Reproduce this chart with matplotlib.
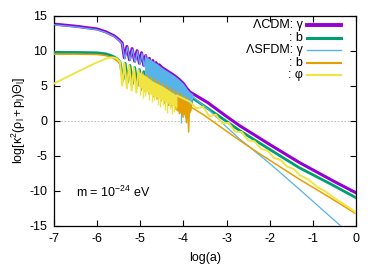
import matplotlib
matplotlib.use("Agg")
import matplotlib.pyplot as plt

plt.rcParams['font.family'] = ['Liberation Sans', 'DejaVu Sans']
plt.rcParams['mathtext.fontset'] = 'custom'
plt.rcParams['mathtext.rm'] = 'Liberation Sans'
plt.rcParams['mathtext.it'] = 'Liberation Sans'
plt.rcParams['mathtext.sf'] = 'Liberation Sans'
plt.rcParams['axes.unicode_minus'] = False

# ---------------- data ----------------
# Lambda-CDM photons (gamma): smooth part, visible oscillation dips, then envelope
lcdm_g_x = [-7.0, -6.5, -6.0, -5.8, -5.6, -5.5, -5.42,
            -5.37, -5.31, -5.25, -5.19, -5.13, -5.075, -5.02, -4.97, -4.92, -4.875,
            -4.83, -4.79, -4.75, -4.71, -4.67, -4.635, -4.6, -4.565,
            -4.5, -4.4, -4.3, -4.2, -4.1, -4.0, -3.92, -3.85, -3.74, -3.44, -3.0,
            -2.7, -2.0, -1.32, -0.5, 0.0]
lcdm_g_y = [13.8, 13.5, 13.1, 12.7, 12.1, 11.6, 11.1,
            9.0, 10.6, 8.7, 10.3, 8.5, 10.0, 8.2, 9.7, 7.9, 9.3,
            7.5, 8.9, 7.2, 8.6, 6.9, 8.3, 6.6, 8.0,
            7.6, 7.2, 6.8, 6.4, 5.9, 5.3, 4.6, 4.1, 3.7, 2.6, 0.6,
            -0.7, -3.4, -5.95, -8.7, -10.3]

# Lambda-CDM baryons
lcdm_b_x = [-7.0, -6.5, -6.0, -5.8, -5.65, -5.55, -5.47,
            -5.4, -5.35, -5.29, -5.24, -5.18, -5.13, -5.07, -5.02, -4.97, -4.92,
            -4.87, -4.83, -4.78, -4.74, -4.69, -4.65, -4.6, -4.56, -4.51, -4.47,
            -4.42, -4.38, -4.33, -4.3, -4.25, -4.21, -4.16, -4.12, -4.08, -4.04,
            -4.0, -3.96, -3.92, -3.88, -3.84, -3.8,
            -3.78, -3.4, -3.0, -2.7, -2.0, -1.32, -0.6, 0.0]
lcdm_b_y = [9.75, 9.75, 9.7, 9.55, 9.25, 8.9, 8.4,
            5.9, 8.2, 5.6, 7.9, 5.3, 7.6, 5.0, 7.3, 4.7, 7.0,
            4.4, 6.7, 4.1, 6.4, 3.8, 6.1, 3.5, 5.8, 3.2, 5.5,
            2.9, 5.2, 2.6, 4.9, 2.3, 4.6, 2.0, 4.3, 1.7, 4.0,
            1.5, 3.7, 1.4, 3.4, 1.8, 3.2,
            3.2, 1.6, -0.1, -1.4, -4.1, -6.7, -9.0, -11.0]

# Lambda-SFDM photons: line before and after the dense oscillations
sfdm_g_x = [-7.0, -6.5, -6.0, -5.8, -5.6, -5.5, -5.42,
            -5.36, -5.3, -5.24, -5.18, -5.12, -5.065, -5.01, -4.96, -4.91, -4.87]
sfdm_g_y = [13.7, 13.4, 13.0, 12.6, 12.0, 11.5, 11.0,
            8.8, 10.5, 8.6, 10.2, 8.3, 9.9, 8.0, 9.6, 7.7, 9.3]
sfdm_g_late_x = [-3.78, -3.4, -3.0, -2.7, -2.0, -1.32, -0.8, -0.36, 0.0]
sfdm_g_late_y = [3.4, 1.5, -0.9, -2.6, -6.1, -9.76, -12.6, -15.0, -17.2]
# dense-oscillation band of Lambda-SFDM photons
sfdm_g_band_x = [-4.9, -4.8, -4.7, -4.6, -4.5, -4.4, -4.3, -4.2, -4.1, -4.0, -3.92, -3.85, -3.78]
sfdm_g_band_top = [9.2, 8.9, 8.5, 8.1, 7.6, 7.2, 6.8, 6.4, 5.9, 5.3, 4.6, 4.1, 3.8]
sfdm_g_band_bot = [6.2, 5.8, 5.3, 5.0, 4.7, 4.3, 3.9, 3.5, 3.1, 2.5, 2.2, 2.0, 3.3]
sfdm_g_spike_x = [-4.15, -4.05, -3.97, -3.9]
sfdm_g_spike_lo = [1.5, -0.4, 0.5, 1.0]
sfdm_g_spike_hi = [3.6, 3.0, 2.6, 2.3]

# Lambda-SFDM baryons
sfdm_b_x = [-7.0, -6.5, -6.0, -5.8, -5.65, -5.55, -5.47,
            -5.41, -5.36, -5.3, -5.25, -5.19, -5.14, -5.08, -5.03, -4.98, -4.93,
            -4.88, -4.84, -4.79, -4.75, -4.7, -4.66, -4.61, -4.57, -4.52, -4.48,
            -4.43, -4.39, -4.34, -4.31, -4.26, -4.22, -4.17, -4.13, -4.09, -4.05,
            -4.01, -3.97, -3.93, -3.9, -3.88, -3.86,
            -3.5, -3.0, -2.7, -2.24, -1.32, -0.6, 0.0]
sfdm_b_y = [9.5, 9.5, 9.45, 9.3, 9.0, 8.6, 8.1,
            5.5, 8.0, 5.2, 7.7, 4.9, 7.4, 4.6, 7.1, 4.3, 6.8,
            4.0, 6.5, 3.7, 6.2, 3.4, 5.9, 3.1, 5.6, 2.8, 5.3,
            2.5, 5.0, 2.2, 4.7, 1.9, 4.4, 1.6, 4.1, 1.0, 3.8,
            0.5, 3.5, -0.3, 3.2, -1.6, 2.1,
            0.7, -1.5, -2.8, -4.7, -8.33, -11.0, -13.3]
sfdm_b_band_x = [-4.18, -4.1, -4.0, -3.9, -3.82]
sfdm_b_band_top = [3.4, 3.2, 2.9, 2.6, 2.3]
sfdm_b_band_bot = [1.6, 1.2, 0.9, 0.6, 1.5]

# Lambda-SFDM scalar field
sfdm_phi_x = [-7.0, -6.5, -6.0, -5.8, -5.65, -5.55, -5.47,
              -5.42, -5.37, -5.31, -5.26, -5.2, -5.15, -5.09, -5.04]
sfdm_phi_y = [5.3, 6.85, 8.35, 8.85, 9.05, 8.9, 8.4,
              5.0, 8.2, 4.6, 7.9, 4.3, 7.6, 4.0, 7.2]
sfdm_phi_band_x = [-5.05, -4.9, -4.7, -4.5, -4.3, -4.15]
sfdm_phi_band_top = [7.1, 6.5, 5.6, 5.0, 4.2, 3.6]
sfdm_phi_band_bot = [5.0, 4.3, 3.6, 3.0, 2.3, 2.0]
sfdm_phi_spike_x = [-5.0, -4.94, -4.88, -4.8, -4.74, -4.68, -4.6, -4.55,
                    -4.48, -4.42, -4.37, -4.32, -4.27, -4.22, -4.18]
sfdm_phi_spike_lo = [3.6, 3.3, 3.5, 2.9, 2.6, 3.0, 2.3, 1.9,
                     2.2, 1.5, 1.1, 1.6, 0.9, 1.3, 1.8]
sfdm_phi_spike_hi = [5.0, 4.8, 4.6, 4.0, 3.8, 3.6, 3.4, 3.2,
                     3.0, 2.8, 2.6, 2.4, 2.3, 2.2, 2.1]
sfdm_phi_late_x = [-4.15, -3.85, -3.7, -3.55, -3.4, -3.25, -3.1, -2.95, -2.8, -2.65,
                   -2.5, -2.35, -2.2, -2.05, -1.9, -1.75, -1.6, -1.45, -1.3,
                   -1.1, -0.9, -0.7, -0.5, -0.3, -0.1, 0.0]
sfdm_phi_late_y = [3.6, 2.7, 1.75, 2.0, 0.66, 0.86, -0.38, -0.32, -1.57, -1.61,
                   -2.81, -2.95, -4.04, -4.28, -5.32, -5.61, -6.55, -6.89, -7.78,
                   -8.42, -9.45, -10.14, -11.07, -11.85, -12.68, -13.1]

x_ticks = [-7, -6, -5, -4, -3, -2, -1, 0]
y_ticks = [-15, -10, -5, 0, 5, 10, 15]
legend_labels = ['ΛCDM: γ', ': b', 'ΛSFDM: γ', ': b', ': φ']

# ---------------- styles ----------------
C_PUR = '#9400d3'
C_GRN = '#009e73'
C_BLU = '#56b4e9'
C_ORA = '#e69f00'
C_YEL = '#f0e442'
FS = 9

fig = plt.figure(figsize=(3.79, 2.66), dpi=100)
ax = fig.add_axes([54 / 379, 1 - 225.7 / 266, 302 / 379, 210 / 266])

ax.axhline(0, color='#b0b0b0', lw=0.6, ls=(0, (2, 2)), zorder=0)

# photons LCDM
ax.plot(lcdm_g_x, lcdm_g_y, color=C_PUR, lw=2.2, zorder=2, solid_joinstyle='round')
# baryons LCDM
ax.plot(lcdm_b_x, lcdm_b_y, color=C_GRN, lw=2.0, zorder=3)
# photons SFDM
ax.plot(sfdm_g_x, sfdm_g_y, color=C_BLU, lw=0.9, zorder=4)
ax.fill_between(sfdm_g_band_x, sfdm_g_band_bot, sfdm_g_band_top, color=C_BLU, lw=0, zorder=4)
ax.vlines(sfdm_g_spike_x, sfdm_g_spike_lo, sfdm_g_spike_hi, color=C_BLU, lw=0.9, zorder=4)
ax.plot(sfdm_g_late_x, sfdm_g_late_y, color=C_BLU, lw=0.9, zorder=4)
# baryons SFDM
ax.plot(sfdm_b_x, sfdm_b_y, color=C_ORA, lw=1.1, zorder=5)
ax.fill_between(sfdm_b_band_x, sfdm_b_band_bot, sfdm_b_band_top, color=C_ORA, lw=0, zorder=5)
# scalar field
ax.plot(sfdm_phi_x, sfdm_phi_y, color=C_YEL, lw=1.4, zorder=6)
ax.fill_between(sfdm_phi_band_x, sfdm_phi_band_bot, sfdm_phi_band_top, color=C_YEL, lw=0, zorder=6)
ax.vlines(sfdm_phi_spike_x, sfdm_phi_spike_lo, sfdm_phi_spike_hi, color=C_YEL, lw=1.0, zorder=6)
ax.plot(sfdm_phi_late_x, sfdm_phi_late_y, color=C_YEL, lw=1.4, zorder=6)

ax.set_xlim(-7, 0)
ax.set_ylim(-15, 15)
ax.set_xticks(x_ticks)
ax.set_yticks(y_ticks)
ax.tick_params(direction='in', top=True, right=True, length=4, width=0.8,
               labelsize=FS, pad=5, colors='black')
for s in ax.spines.values():
    s.set_linewidth(0.9)
ax.set_xlabel('log(a)', fontsize=FS, labelpad=5)
ax.set_ylabel(r'log[$\mathregular{\kappa^2(\rho_l + p_l)\Theta_l}$]', fontsize=FS, labelpad=1)

ax.text(-6.49, -10.2, r'm = 10$^{-24}$ eV', fontsize=FS, va='center', ha='left')

# legend (gnuplot style: right aligned text, sample line to the right)
leg_colors = [C_PUR, C_GRN, C_BLU, C_ORA, C_YEL]
leg_lw = [2.8, 2.2, 1.0, 1.5, 1.5]
leg_y = [0.956, 0.895, 0.836, 0.776, 0.717]
for lab, c, lw, yy in zip(legend_labels, leg_colors, leg_lw, leg_y):
    ax.text(0.8245, yy, lab, transform=ax.transAxes, ha='right', va='center', fontsize=FS)
    ax.plot([0.8377, 0.950], [yy, yy], transform=ax.transAxes, color=c, lw=lw, zorder=7)

fig.savefig('out.png', dpi=100)
